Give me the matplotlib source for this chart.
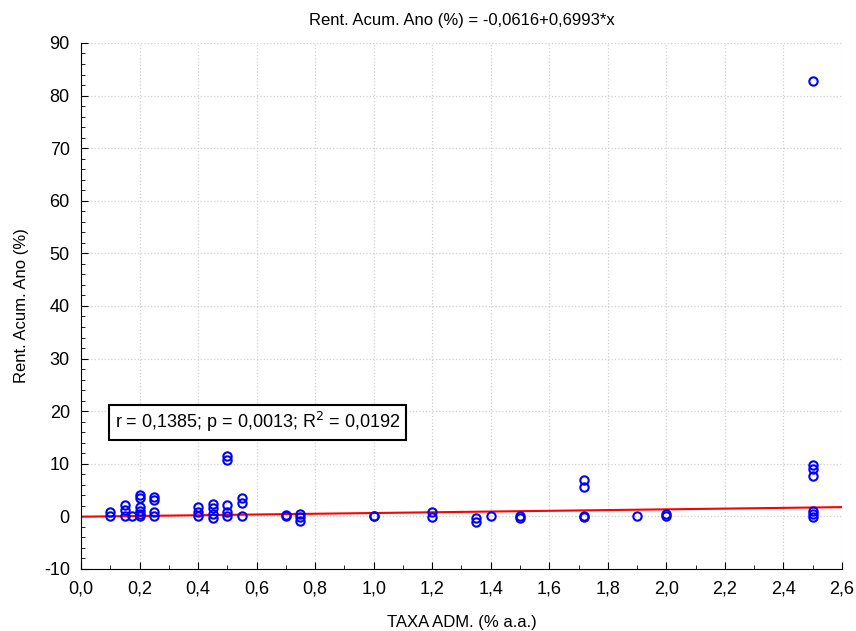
import numpy as np
import matplotlib
matplotlib.use("Agg")
import matplotlib.pyplot as plt
from matplotlib.ticker import MultipleLocator, FuncFormatter

plt.rcParams["font.family"] = ["Liberation Sans", "DejaVu Sans"]

# dados (taxa adm x rentabilidade acumulada no ano)
taxa = [0.1, 0.1,
        0.15, 0.15, 0.15,
        0.175,
        0.2, 0.2, 0.2, 0.2, 0.2, 0.2,
        0.25, 0.25, 0.25, 0.25,
        0.4, 0.4, 0.4,
        0.45, 0.45, 0.45, 0.45,
        0.5, 0.5, 0.5, 0.5, 0.5,
        0.55, 0.55, 0.55,
        0.7, 0.7,
        0.75, 0.75, 0.75,
        1.0, 1.0,
        1.2, 1.2,
        1.35, 1.35,
        1.4,
        1.5, 1.5,
        1.72, 1.72, 1.72, 1.72,
        1.9,
        2.0, 2.0,
        2.5, 2.5, 2.5, 2.5, 2.5, 2.5, 2.5]
rent = [0.8, 0.0,
        2.2, 1.2, 0.0,
        0.0,
        4.0, 3.4, 1.7, 1.1, 0.5, 0.0,
        3.6, 3.2, 0.8, 0.0,
        1.7, 0.8, 0.0,
        2.3, 1.5, 0.4, -0.3,
        11.4, 10.8, 2.1, 0.8, 0.0,
        3.4, 2.5, 0.0,
        0.3, 0.0,
        0.4, -0.2, -0.9,
        0.1, 0.0,
        0.8, -0.1,
        -0.4, -1.0,
        0.0,
        0.1, -0.3,
        7.0, 5.6, 0.0, -0.2,
        0.0,
        0.4, 0.0,
        82.8, 9.7, 9.1, 7.6, 1.0, 0.4, -0.1]

a, b = -0.0616, 0.6993

fig = plt.figure(figsize=(8.56, 6.31), dpi=100, facecolor="w")
ax = fig.add_axes([0.0946, 0.0983, 0.889, 0.8336])

ax.plot(taxa, rent, linestyle="none", marker="o", ms=6, mfc="none",
        mec="#0000ff", mew=1.5, zorder=3)

xl = np.array([0.0, 2.6])
ax.plot(xl, a + b * xl, color="#ff0000", lw=1.5, zorder=2)

ax.set_xlim(0, 2.6)
ax.set_ylim(-10, 90)
ax.xaxis.set_major_locator(MultipleLocator(0.2))
ax.xaxis.set_minor_locator(MultipleLocator(0.1))
ax.yaxis.set_major_locator(MultipleLocator(10))
ax.yaxis.set_minor_locator(MultipleLocator(2))
ax.xaxis.set_major_formatter(FuncFormatter(lambda v, p: f"{v:.1f}".replace(".", ",")))
ax.yaxis.set_major_formatter(FuncFormatter(lambda v, p: f"{v:.0f}"))
ax.tick_params(which="both", direction="in", labelsize=13, pad=8)
ax.tick_params(which="major", length=5)
ax.tick_params(which="minor", length=3)

ax.grid(True, which="major", color="#d0d0d0", linestyle=":", linewidth=0.9)
ax.set_axisbelow(True)
for s in ["top", "right"]:
    ax.spines[s].set_visible(False)

ax.set_title("Rent. Acum. Ano (%) = -0,0616+0,6993*x", fontsize=12, pad=13)
ax.set_xlabel("TAXA ADM. (% a.a.)", fontsize=12, labelpad=13)
ax.set_ylabel("Rent. Acum. Ano (%)", fontsize=12, labelpad=11)

ax.text(0.115, 17.9, "r = 0,1385; p = 0,0013; R$^2$ = 0,0192", fontsize=13,
        ha="left", va="center", zorder=4,
        bbox=dict(boxstyle="square,pad=0.3", facecolor="white", edgecolor="black", lw=1.5))

fig.savefig("out.png", dpi=100)
